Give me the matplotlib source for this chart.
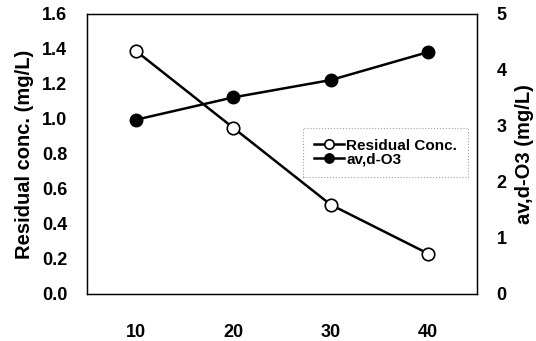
import matplotlib
matplotlib.use('Agg')
import matplotlib.pyplot as plt

plt.rcParams['font.family'] = ['Liberation Sans', 'DejaVu Sans']
plt.rcParams['font.weight'] = 'bold'

# data
doses = [10, 20, 30, 40]
residual_conc = [1.39, 0.95, 0.51, 0.23]
av_d_o3 = [3.11, 3.51, 3.82, 4.32]

fig = plt.figure(figsize=(5.36, 3.41), dpi=100)
ax = fig.add_axes([0.162, 0.138, 0.728, 0.821])
ax2 = ax.twinx()

l1, = ax.plot(doses, residual_conc, color='black', lw=1.8, marker='o', ms=9,
              mfc='white', mec='black', mew=1.2, label='Residual Conc.')
l2, = ax2.plot(doses, av_d_o3, color='black', lw=1.8, marker='o', ms=9,
               mfc='black', mec='black', label='av,d-O3')

ax.set_xlim(5, 45)
ax.set_ylim(0, 1.6)
ax2.set_ylim(0, 5)
ax.set_xticks(doses)
ax.set_yticks([0.0, 0.2, 0.4, 0.6, 0.8, 1.0, 1.2, 1.4, 1.6])
ax.set_yticklabels([f'{v:.1f}' for v in ax.get_yticks()])
ax2.set_yticks(range(6))

for a in (ax, ax2):
    a.tick_params(length=0, labelsize=13)
    for s in a.spines.values():
        s.set_linewidth(0.9)
ax.tick_params(axis='x', pad=22)
ax.tick_params(axis='y', pad=14)
ax2.tick_params(axis='y', pad=14)

ax.set_ylabel('Residual conc. (mg/L)', fontsize=14.5, fontweight='bold', labelpad=6)
ax2.set_ylabel('av,d-O3 (mg/L)', fontsize=14.5, fontweight='bold', labelpad=6)

leg = ax.legend(handles=[l1, l2], loc='upper left', bbox_to_anchor=(0.535, 0.62),
                fontsize=11, handlelength=2.0, handletextpad=0.1, borderpad=0.7,
                labelspacing=0.0, markerscale=0.75, fancybox=False, frameon=True)
leg.get_frame().set_edgecolor('#888888')
leg.get_frame().set_linestyle(':')
leg.get_frame().set_linewidth(0.8)

fig.savefig('out.png', dpi=100)
